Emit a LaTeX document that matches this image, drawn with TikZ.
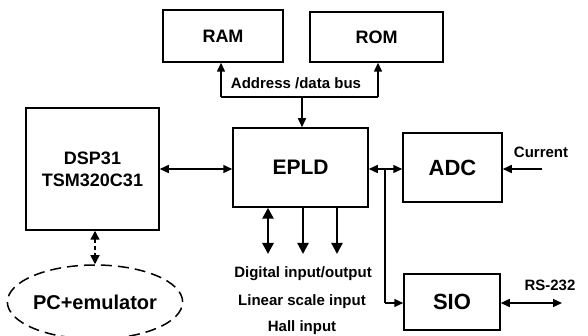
\documentclass[tikz,border=0pt]{standalone}
\usepackage{fontspec}
\setmainfont{Liberation Sans}
\usetikzlibrary{arrows.meta,shapes.geometric}
\begin{document}
\begin{tikzpicture}[x=1pt,y=-1pt,
  blk/.style={draw,line width=1.5pt,inner sep=0pt,font=\bfseries\fontsize{18}{22}\selectfont},
  bigblk/.style={blk,font=\bfseries\fontsize{22}{24}\selectfont},
  lbl/.style={font=\bfseries\fontsize{15}{17}\selectfont,inner sep=0pt},
  tip/.style={Triangle[length=9pt,width=8pt]},
  conn/.style={line width=1.5pt,-{Triangle[length=9pt,width=8pt]}},
  biconn/.style={line width=1.5pt,{Triangle[length=9pt,width=8pt]}-{Triangle[length=9pt,width=8pt]}}]
\useasboundingbox (0,0) rectangle (588,336);
\node[blk,minimum width=120pt,minimum height=52pt] (ram) at (223,36) {RAM};
\node[blk,minimum width=133pt,minimum height=50pt] (rom) at (376.5,37) {ROM};
\node[blk,minimum width=133pt,minimum height=122pt,align=center] (dsp) at (92.5,169) {DSP31\\TSM320C31};
\node[bigblk,font=\bfseries\fontsize{21}{24}\selectfont,minimum width=135pt,minimum height=79pt] (epld) at (300.5,167.5) {EPLD};
\node[bigblk,minimum width=99pt,minimum height=69pt] (adc) at (452.5,167.5) {ADC};
\node[bigblk,minimum width=96pt,minimum height=56pt] (sio) at (452,302) {SIO};
\node[draw,dash pattern=on 11pt off 6pt,line width=1.5pt,ellipse,minimum width=164pt,minimum height=74pt,inner sep=0pt,font=\bfseries\fontsize{20}{22}\selectfont] (pc) at (95,302) {PC+emulator};
% bus
\coordinate (bus) at (302,97);
\coordinate (busl) at (221,97);
\coordinate (busr) at (378,97);
\draw[line width=1.5pt] (busl) -- (busr);
\draw[conn] (busl) -- (busl |- ram.south);
\draw[conn] (busr) -- (busr |- rom.south);
\draw[conn] (bus) -- (bus |- epld.north);
\node[lbl] (buslbl) at (296,83) {Address /data bus};
% DSP-EPLD
\draw[biconn] (dsp.east |- 0,169) -- (epld.west |- 0,169);
% DSP-PC
\draw[line width=1.5pt,dash pattern=on 4pt off 3pt,{Triangle[length=9pt,width=9pt]}-{Triangle[length=9pt,width=9pt]}] (dsp.south -| 95,0) -- (pc.north);
% EPLD-ADC, SIO
\coordinate (j) at (385,169);
\coordinate (js) at (385,303);
\draw[conn] (j) -- (epld.east |- j);
\draw[conn] (j) -- (adc.west |- j);
\draw[line width=1.5pt] (j) -- (js);
\draw[conn] (js) -- (sio.west |- js);
% current
\coordinate (cur) at (542,169);
\draw[conn] (cur) -- (adc.east |- cur);
\node[lbl] (curlbl) at (541,152) {Current};
% RS-232
\coordinate (rs) at (562,303);
\draw[biconn] (sio.east |- rs) -- (rs);
\node[lbl] (rslbl) at (550,285) {RS-232};
% bottom IO
\coordinate (d1) at (268,254);
\coordinate (d2) at (303,254);
\coordinate (d3) at (337,254);
\draw[line width=2.6pt,{Triangle[length=11pt,width=11pt]}-{Triangle[length=11pt,width=11pt]}] (epld.south -| d1) -- (d1);
\draw[line width=2.2pt,-{Triangle[length=11pt,width=11pt]}] (epld.south -| d2) -- (d2);
\draw[line width=2.2pt,-{Triangle[length=11pt,width=11pt]}] (epld.south -| d3) -- (d3);
\node[lbl] (dio) at (303,274) {Digital input/output};
\node[lbl] (lin) at (302,302) {Linear scale input};
\node[lbl] (hall) at (302,328) {Hall input};
\end{tikzpicture}
\end{document}
